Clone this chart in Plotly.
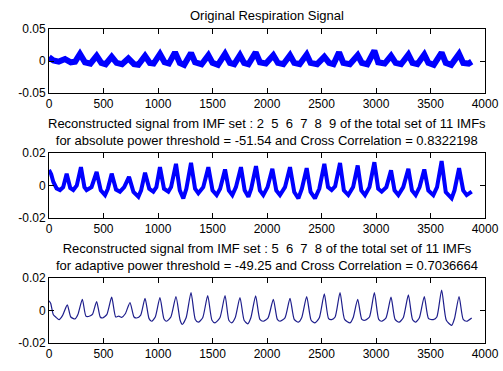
import plotly.graph_objects as go

# ---------------- data ----------------
# Panel 1: original respiration signal (band centre, sample index / amplitude)
p1_x = [0, 40, 90, 147, 200, 240, 284, 330, 380, 437, 480, 520, 575, 620, 670, 728, 780, 820,
        881, 925, 960, 1018, 1060, 1100, 1156, 1200, 1240, 1303, 1340, 1400, 1462, 1500, 1550,
        1615, 1660, 1700, 1752, 1790, 1830, 1896, 1935, 1990, 2058, 2100, 2150, 2211, 2250, 2300,
        2364, 2400, 2460, 2526, 2570, 2610, 2661, 2700, 2760, 2832, 2870, 2920, 2985, 3020, 3080,
        3138, 3180, 3230, 3297, 3335, 3380, 3443, 3480, 3530, 3602, 3640, 3690, 3762, 3800, 3850, 3878]
p1_y = [0.0060, 0.0010, -0.0010, 0.0030, -0.0020, -0.0010, 0.0110, -0.0020, -0.0040, 0.0080, -0.0030,
        -0.0050, 0.0065, -0.0030, -0.0050, 0.0040, -0.0050, -0.0060, 0.0080, -0.0030, -0.0040, 0.0110,
        -0.0020, -0.0040, 0.0135, -0.0030, -0.0060, 0.0125, -0.0020, -0.0050, 0.0090, -0.0030, -0.0060,
        0.0110, -0.0030, -0.0050, 0.0090, -0.0030, -0.0050, 0.0135, -0.0020, -0.0040, 0.0090, -0.0030,
        -0.0050, 0.0090, -0.0030, -0.0050, 0.0100, -0.0030, -0.0050, 0.0065, -0.0030, -0.0050, 0.0135,
        -0.0030, -0.0050, 0.0090, -0.0030, -0.0050, 0.0160, -0.0020, -0.0040, 0.0080, -0.0030, -0.0050,
        0.0100, -0.0030, -0.0050, 0.0100, -0.0030, -0.0060, 0.0130, -0.0030, -0.0060, 0.0110, -0.0030,
        -0.0040, -0.0010]

# Panel 2: reconstruction from IMFs 2 5 6 7 8 9
p2_x = [0, 20, 40, 70, 101, 130, 162, 195, 223, 255, 293, 325, 345, 390, 437, 475, 514, 540, 575, 615,
        651, 690, 734, 775, 820, 845, 881, 920, 957, 985, 1018, 1055, 1095, 1120, 1165, 1200, 1232, 1260,
        1303, 1340, 1370, 1415, 1462, 1500, 1538, 1570, 1615, 1650, 1682, 1715, 1761, 1795, 1829, 1855,
        1899, 1935, 1966, 2005, 2049, 2085, 2119, 2165, 2211, 2250, 2288, 2320, 2364, 2400, 2440, 2480,
        2526, 2560, 2593, 2625, 2670, 2705, 2746, 2790, 2832, 2865, 2899, 2940, 2985, 3020, 3052, 3095,
        3138, 3170, 3205, 3250, 3297, 3330, 3364, 3400, 3443, 3480, 3526, 3560, 3602, 3640, 3694, 3720,
        3762, 3800, 3832, 3878]
p2_y = [0.0095, 0.0070, 0.0022, -0.0018, -0.0028, -0.0010, 0.0073, -0.0015, -0.0028, 0.0000, 0.0113,
        -0.0010, -0.0028, -0.0010, 0.0083, -0.0030, -0.0059, -0.0020, 0.0073, -0.0025, -0.0038, -0.0010,
        0.0053, -0.0040, -0.0069, -0.0030, 0.0079, -0.0020, -0.0038, -0.0010, 0.0113, -0.0020, -0.0038,
        -0.0010, 0.0133, -0.0030, -0.0079, -0.0020, 0.0139, -0.0020, -0.0048, -0.0010, 0.0113, -0.0030,
        -0.0059, -0.0020, 0.0099, -0.0030, -0.0059, -0.0010, 0.0113, -0.0030, -0.0069, -0.0020, 0.0119,
        -0.0030, -0.0059, -0.0010, 0.0103, -0.0030, -0.0059, -0.0010, 0.0113, -0.0040, -0.0079, -0.0020,
        0.0107, -0.0040, -0.0079, -0.0020, 0.0133, -0.0010, -0.0028, -0.0005, 0.0139, -0.0030, -0.0059,
        -0.0010, 0.0123, -0.0030, -0.0059, -0.0010, 0.0143, -0.0020, -0.0038, -0.0010, 0.0093, -0.0030,
        -0.0059, -0.0010, 0.0103, -0.0030, -0.0059, -0.0010, 0.0099, -0.0030, -0.0059, -0.0010, 0.0150,
        -0.0040, -0.0079, -0.0030, 0.0107, -0.0030, -0.0059, -0.0038]

# Panel 3: reconstruction from IMFs 5 6 7 8
p3_x = [0, 15, 40, 65, 92, 125, 168, 200, 239, 265, 306, 340, 380, 400, 437, 470, 490, 530, 575, 612,
        640, 667, 700, 743, 780, 804, 840, 881, 918, 942, 975, 1018, 1055, 1079, 1118, 1165, 1203, 1223,
        1258, 1303, 1342, 1370, 1410, 1456, 1495, 1523, 1568, 1615, 1650, 1676, 1708, 1752, 1790, 1823,
        1852, 1896, 1935, 1966, 2010, 2058, 2095, 2119, 2165, 2211, 2250, 2288, 2318, 2364, 2405, 2440,
        2480, 2526, 2565, 2593, 2625, 2670, 2712, 2762, 2790, 2832, 2870, 2899, 2940, 2985, 3025, 3052,
        3092, 3138, 3175, 3211, 3250, 3297, 3335, 3364, 3398, 3443, 3482, 3526, 3558, 3602, 3645, 3694,
        3720, 3762, 3800, 3832, 3878]
p3_y = [0.0060, 0.0045, -0.0026, -0.0042, -0.0056, -0.0030, 0.0035, -0.0040, -0.0052, -0.0025, 0.0069,
        -0.0036, -0.0032, -0.0022, 0.0055, -0.0040, -0.0046, -0.0025, 0.0082, -0.0040, -0.0034, -0.0042,
        -0.0020, 0.0049, -0.0040, -0.0046, -0.0030, 0.0075, -0.0050, -0.0066, -0.0040, 0.0080, -0.0052,
        -0.0066, -0.0040, 0.0086, -0.0060, -0.0086, -0.0045, 0.0110, -0.0055, -0.0072, -0.0045, 0.0092,
        -0.0060, -0.0076, -0.0045, 0.0092, -0.0060, -0.0076, -0.0045, 0.0080, -0.0060, -0.0082, -0.0045,
        0.0090, -0.0055, -0.0066, -0.0045, 0.0069, -0.0055, -0.0066, -0.0045, 0.0075, -0.0055, -0.0072,
        -0.0045, 0.0086, -0.0060, -0.0076, -0.0045, 0.0102, -0.0050, -0.0056, -0.0040, 0.0110, -0.0055,
        -0.0076, -0.0045, 0.0069, -0.0055, -0.0060, -0.0040, 0.0110, -0.0055, -0.0066, -0.0045, 0.0082,
        -0.0055, -0.0072, -0.0045, 0.0096, -0.0055, -0.0072, -0.0045, 0.0086, -0.0050, -0.0056, -0.0040,
        0.0126, -0.0060, -0.0092, -0.0050, 0.0086, -0.0055, -0.0066, -0.0046]

x_ticks = [0, 500, 1000, 1500, 2000, 2500, 3000, 3500, 4000]
y1_ticks = [-0.05, 0, 0.05]
y1_text = ["-0.05", "0", "0.05"]
y23_ticks = [-0.02, 0, 0.02]
y23_text = ["-0.02", "0", "0.02"]

titles = [
    "Original Respiration Signal",
    "Reconstructed signal from IMF set : 2  5  6  7  8  9 of the total set of 11 IMFs<br>"
    "for absolute power threshold = -51.54 and Cross Correlation = 0.8322198",
    "Reconstructed signal from IMF set : 5  6  7  8 of the total set of 11 IMFs<br>"
    "for adaptive power threshold = -49.25 and Cross Correlation = 0.7036664",
]

# ---------------- figure ----------------
W, H = 503, 371
FONT = "Liberation Sans, Arial, sans-serif"

def py(p):
    return 1 - p / H

fig = go.Figure()
fig.add_trace(go.Scatter(x=p1_x, y=p1_y, mode="lines",
                         line=dict(color="#0000ff", width=6),
                         xaxis="x", yaxis="y"))
fig.add_trace(go.Scatter(x=p2_x, y=p2_y, mode="lines",
                         line=dict(color="#0000ff", width=4),
                         xaxis="x2", yaxis="y2"))
fig.add_trace(go.Scatter(x=p3_x, y=p3_y, mode="lines",
                         line=dict(color="#1e1e8c", width=1.2, shape="spline", smoothing=0.6),
                         xaxis="x3", yaxis="y3"))

xdom = [49 / W, 485 / W]
panels = [(29, 93), (153, 218), (278, 343)]

ax_common = dict(showline=True, linecolor="black", linewidth=1, mirror="ticks",
                 ticks="inside", ticklen=5, tickcolor="black", showgrid=False, zeroline=False,
                 automargin=False,
                 tickfont=dict(family=FONT, size=12, color="black"))

layout = dict(width=W, height=H, margin=dict(l=0, r=0, t=0, b=0, autoexpand=False),
              paper_bgcolor="white", plot_bgcolor="white", showlegend=False,
              font=dict(family=FONT, size=12, color="black"))
for i, (top, bot) in enumerate(panels):
    sx = "" if i == 0 else str(i + 1)
    layout["xaxis" + sx] = dict(ax_common, domain=xdom, range=[0, 4000], tickvals=x_ticks,
                                anchor="y" + sx)
    if i == 0:
        yv, yt, yr = y1_ticks, y1_text, [-0.05, 0.05]
    else:
        yv, yt, yr = y23_ticks, y23_text, [-0.02, 0.02]
    layout["yaxis" + sx] = dict(ax_common, domain=[py(bot), py(top)], range=yr,
                                tickvals=yv, ticktext=yt, anchor="x" + sx)

fig.update_layout(**layout)

title_y = [15, 132, 257]
for t, yy in zip(titles, title_y):
    fig.add_annotation(text=t, xref="paper", yref="paper", x=(49 + 485) / 2 / W, y=py(yy),
                       xanchor="center", yanchor="middle", showarrow=False,
                       font=dict(family=FONT, size=13, color="black"))

fig.write_html("out.html", config={"displayModeBar": False},
               post_script="document.body.style.margin='0';document.body.style.overflow='hidden';")
